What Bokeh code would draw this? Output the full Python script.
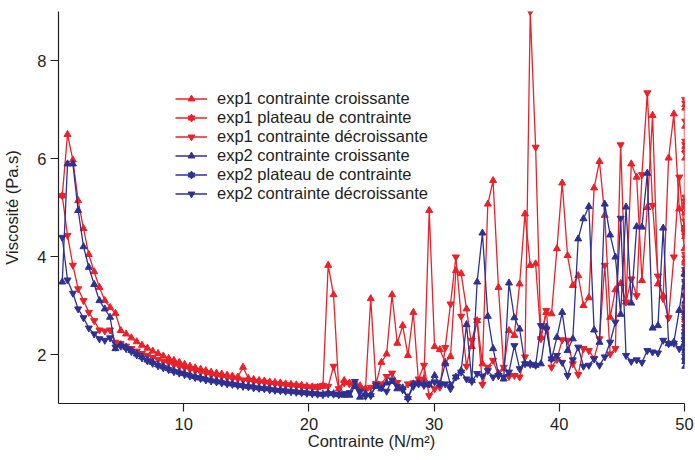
from bokeh.plotting import figure
from bokeh.models import FixedTicker, Legend, LegendItem, ColumnDataSource
from bokeh.transform import dodge
from bokeh.embed import file_html
from bokeh.resources import INLINE

# Stress set-points (N/m²) of the sweeps
stress = [
    0.30, 0.72, 1.15, 1.57, 2.00, 2.42, 2.85, 3.27, 3.70, 4.12,
    4.55, 4.97, 5.40, 5.82, 6.25, 6.67, 7.10, 7.52, 7.95, 8.37,
    8.80, 9.22, 9.65, 10.07, 10.50, 10.92, 11.35, 11.77, 12.19, 12.62,
    13.04, 13.47, 13.89, 14.32, 14.74, 15.17, 15.59, 16.02, 16.44, 16.87,
    17.29, 17.72, 18.14, 18.57, 18.99, 19.42, 19.84, 20.27, 20.69, 21.12,
    21.54, 21.97, 22.39, 22.82, 23.24, 23.67, 24.09, 24.52, 24.94, 25.36,
    25.79, 26.21, 26.64, 27.06, 27.49, 27.91, 28.34, 28.76, 29.19, 29.61,
    30.04, 30.46, 30.89, 31.31, 31.74, 32.16, 32.59, 33.01, 33.44, 33.86,
    34.29, 34.71, 35.14, 35.56, 35.98, 36.41, 36.83, 37.26, 37.68, 38.11,
    38.53, 38.96, 39.38, 39.81, 40.23, 40.66, 41.08, 41.51, 41.93, 42.36,
    42.78, 43.21, 43.63, 44.06, 44.48, 44.90, 45.33, 45.75, 46.18, 46.60,
    47.03, 47.45, 47.88, 48.30, 48.73, 49.15, 49.58, 50.00,
]

exp1_up = [
    5.24, 6.49, 5.97, 5.14, 4.57, 4.04, 3.69, 3.37, 3.10, 2.96,
    2.84, 2.49, 2.42, 2.34, 2.26, 2.19, 2.13, 2.07, 2.02, 1.97,
    1.92, 1.88, 1.84, 1.80, 1.76, 1.73, 1.70, 1.67, 1.64, 1.62,
    1.60, 1.58, 1.56, 1.54, 1.74, 1.51, 1.49, 1.47, 1.46, 1.44,
    1.43, 1.42, 1.40, 1.39, 1.38, 1.37, 1.35, 1.34, 1.33, 1.35,
    3.82, 3.22, 1.30, 1.47, 1.42, 1.40, 1.36, 1.30, 3.14, 1.40,
    1.84, 2.01, 3.22, 2.23, 2.59, 1.98, 2.86, 1.43, 1.50, 4.94,
    2.16, 2.10, 1.84, 1.96, 3.71, 3.65, 2.93, 2.16, 2.69, 1.81,
    5.07, 5.55, 3.37, 1.71, 2.49, 2.39, 3.44, 4.87, 3.82, 3.85,
    2.35, 2.86, 2.83, 4.16, 5.50, 4.02, 3.41, 3.61, 3.00, 3.16,
    5.40, 5.94, 4.84, 2.76, 3.32, 3.45, 3.07, 5.89, 5.62, 3.51,
    5.00, 6.88, 3.44, 3.20, 6.01, 6.91, 4.97, 4.16,
]

exp1_plateau = [7.15, 7.08, 6.71, 6.30, 6.23, 6.06, 5.16, 5.08, 4.94, 4.67, 4.54, 4.46,
                3.99, 3.92, 3.78, 3.41, 3.31, 3.10, 2.86, 2.76, 2.59, 2.49, 2.35]

exp1_down = [
    5.24, 4.43, 3.82, 3.34, 3.10, 2.86, 2.69, 2.50, 2.48, 2.50,
    2.25, 2.22, 2.17, 2.12, 2.07, 2.02, 1.98, 1.94, 1.90, 1.86,
    1.83, 1.79, 1.76, 1.73, 1.70, 1.67, 1.64, 1.62, 1.59, 1.57,
    1.55, 1.53, 1.51, 1.50, 1.48, 1.47, 1.45, 1.44, 1.43, 1.41,
    1.40, 1.39, 1.38, 1.37, 1.36, 1.35, 1.34, 1.33, 1.35, 1.37,
    1.35, 1.76, 1.30, 1.42, 1.40, 1.38, 1.30, 1.28, 1.33, 1.41,
    1.40, 1.55, 1.62, 1.43, 1.30, 1.40, 1.42, 1.50, 1.78, 1.16,
    1.30, 1.33, 2.14, 3.03, 3.99, 2.78, 1.76, 2.29, 2.69, 1.39,
    1.74, 1.88, 1.57, 1.74, 1.55, 1.57, 1.54, 1.95, 9.00, 6.23,
    2.32, 2.90, 1.74, 1.90, 2.30, 2.29, 1.81, 1.59, 2.12, 2.08,
    1.92, 2.32, 3.82, 2.01, 2.12, 6.28, 3.07, 3.54, 3.20, 5.67,
    7.34, 5.04, 3.60, 3.14, 2.75, 3.99, 5.62, 4.50,
]

exp2_up = [
    3.48, 5.89, 5.89, 4.94, 4.20, 3.78, 3.43, 3.10, 2.93, 2.76,
    2.12, 2.20, 2.15, 2.08, 2.01, 1.95, 1.89, 1.84, 1.79, 1.75,
    1.71, 1.67, 1.64, 1.61, 1.58, 1.55, 1.52, 1.50, 1.48, 1.46,
    1.44, 1.42, 1.40, 1.38, 1.37, 1.35, 1.34, 1.32, 1.31, 1.30,
    1.28, 1.27, 1.26, 1.25, 1.24, 1.23, 1.22, 1.21, 1.20, 1.19,
    1.22, 1.20, 1.18, 1.17, 1.17, 1.35, 1.13, 1.20, 1.18, 1.35,
    1.30, 1.42, 1.45, 1.30, 1.32, 1.12, 1.40, 1.42, 1.40, 1.38,
    1.57, 1.40, 1.81, 1.37, 1.54, 1.67, 2.61, 1.47, 3.48, 4.48,
    2.78, 2.12, 1.61, 1.50, 3.46, 2.75, 2.52, 1.81, 1.81, 1.78,
    1.81, 2.56, 1.91, 2.35, 2.86, 2.08, 2.32, 4.36, 4.77, 5.02,
    2.50, 2.25, 5.07, 4.44, 3.99, 2.82, 5.01, 3.05, 4.61, 4.60,
    5.70, 2.54, 2.59, 4.58, 2.22, 2.25, 2.90, 3.65,
]

exp2_plateau = [3.68, 3.44, 3.14, 2.90, 2.80, 2.66, 2.52, 2.42, 2.35, 2.29,
                2.18, 2.12, 2.01, 1.91, 1.81]

exp2_down = [
    4.39, 3.52, 3.25, 2.93, 2.75, 2.54, 2.42, 2.32, 2.29, 2.34,
    2.15, 2.17, 2.12, 2.06, 1.99, 1.93, 1.87, 1.82, 1.77, 1.73,
    1.69, 1.65, 1.62, 1.59, 1.56, 1.53, 1.51, 1.48, 1.46, 1.44,
    1.42, 1.40, 1.39, 1.37, 1.35, 1.34, 1.32, 1.31, 1.30, 1.28,
    1.27, 1.26, 1.25, 1.24, 1.23, 1.22, 1.21, 1.20, 1.19, 1.18,
    1.20, 1.19, 1.18, 1.20, 1.22, 1.45, 1.25, 1.15, 1.16, 1.38,
    1.32, 1.25, 1.48, 1.35, 1.28, 1.10, 1.35, 1.40, 1.37, 1.40,
    1.44, 1.40, 1.40, 1.30, 1.54, 1.64, 1.50, 1.45, 1.61, 1.56,
    1.67, 1.54, 1.57, 1.54, 1.64, 2.18, 1.71, 1.81, 1.80, 1.78,
    2.59, 2.52, 1.91, 1.98, 1.84, 1.57, 1.89, 2.15, 1.76, 1.78,
    1.91, 1.78, 1.95, 2.25, 2.66, 4.78, 1.98, 1.86, 1.89, 1.84,
    2.08, 2.05, 2.03, 2.29, 2.22, 2.23, 2.12, 2.30,
]

plateau_stress = 50.0

x_ticks = [10, 20, 30, 40, 50]
y_ticks = [2, 4, 6, 8]

labels = [
    "exp1 contrainte croissante",
    "exp1 plateau de contrainte",
    "exp1 contrainte décroissante",
    "exp2 contrainte croissante",
    "exp2 plateau de contrainte",
    "exp2 contrainte décroissante",
]

RED = "#ec2027"
BLUE = "#2e3192"
INK = "#231f20"
FONT = "Liberation Sans"

p = figure(width=695, height=460, x_range=(0, 50), y_range=(1, 9),
           output_backend="svg", toolbar_location=None, title=None,
           min_border_left=57, min_border_right=11, min_border_top=11, min_border_bottom=57)
p.background_fill_color = None
p.border_fill_color = None
p.outline_line_color = None
p.grid.visible = False

p.xaxis.ticker = FixedTicker(ticks=x_ticks)
p.yaxis.ticker = FixedTicker(ticks=y_ticks)
for ax in (p.xaxis[0], p.yaxis[0]):
    ax.axis_line_color = INK
    ax.axis_line_width = 1.2
    ax.major_tick_line_color = INK
    ax.major_tick_line_width = 1.2
    ax.major_tick_in = 0
    ax.major_tick_out = 8
    ax.minor_tick_line_color = None
    ax.major_label_text_font = FONT
    ax.major_label_text_font_size = "16.5px"
    ax.major_label_text_color = INK
    ax.axis_label_text_font = FONT
    ax.axis_label_text_font_size = "16.5px"
    ax.axis_label_text_font_style = "normal"
    ax.axis_label_text_color = INK
p.xaxis.axis_label = "Contrainte (N/m²)"
p.yaxis.axis_label = "Viscosité (Pa.s)"
p.xaxis.major_label_standoff = 6
p.yaxis.major_label_standoff = 4
p.xaxis.axis_label_standoff = -1
p.yaxis.axis_label_standoff = 13


def sweep(xs, ys, color, marker):
    src = ColumnDataSource(dict(x=xs, y=ys))
    ln = p.line("x", "y", source=src, line_color=color, line_width=1.3)
    mk = p.scatter("x", "y", source=src, marker=marker, size=7,
                   fill_color=color, line_color=color)
    return [ln, mk]


def plateau(vals, color):
    src = ColumnDataSource(dict(x=[plateau_stress] * len(vals), y=vals))
    ln = p.line("x", "y", source=src, line_color=color, line_width=1.3)
    top = p.scatter("x", dodge("y", 0.06, range=p.y_range), source=src,
                    marker="inverted_triangle", size=5.5, fill_color=color, line_color=color)
    bot = p.scatter("x", dodge("y", -0.06, range=p.y_range), source=src,
                    marker="triangle", size=5.5, fill_color=color, line_color=color)
    return [ln, top, bot]


r1 = sweep(stress, exp1_up, RED, "triangle")
r2 = plateau(exp1_plateau, RED)
r3 = sweep(stress[::-1], exp1_down[::-1], RED, "inverted_triangle")
r4 = sweep(stress, exp2_up, BLUE, "triangle")
r5 = plateau(exp2_plateau, BLUE)
r6 = sweep(stress[::-1], exp2_down[::-1], BLUE, "inverted_triangle")

items = [LegendItem(label=l, renderers=r) for l, r in zip(labels, [r1, r2, r3, r4, r5, r6])]
legend = Legend(items=items, location=(117, 200))
legend.background_fill_alpha = 0
legend.border_line_color = None
legend.padding = 0
legend.margin = 0
legend.spacing = 0
legend.glyph_width = 32
legend.glyph_height = 17
legend.label_height = 17
legend.label_standoff = 10
legend.label_text_font = FONT
legend.label_text_font_size = "16.5px"
legend.label_text_color = INK
p.add_layout(legend)

open("out.html", "w").write(file_html(p, INLINE))
